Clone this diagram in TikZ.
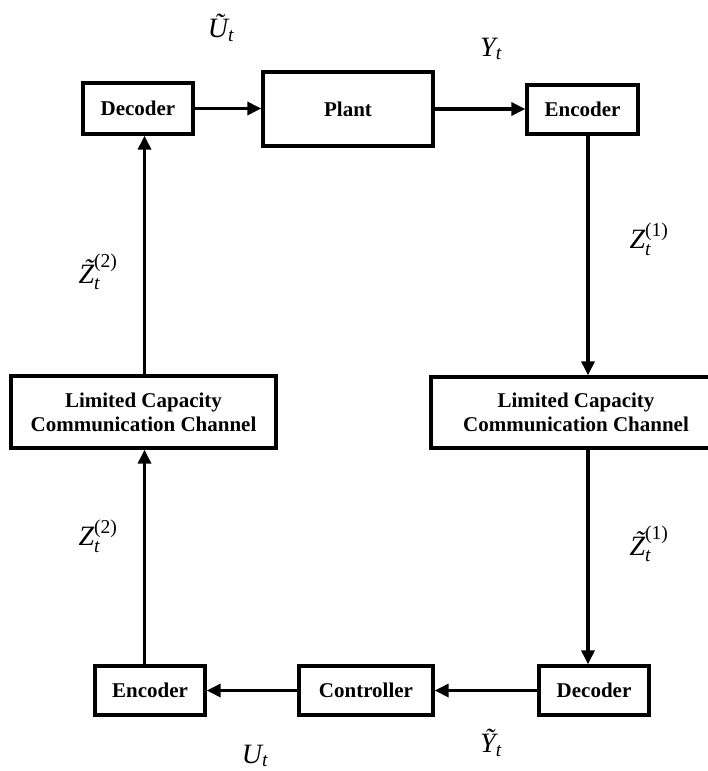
\documentclass[tikz,border=0pt]{standalone}
\usepackage{fontspec}
\setmainfont{Liberation Serif}
\usepackage{amsmath}
\usetikzlibrary{arrows.meta}
\newcommand{\vi}[1]{\text{\itshape #1}}
% italic capital with a tilde set from the text font
\newcommand{\tld}[1]{\text{\itshape\setbox0\hbox{#1}\rlap{\hbox to \wd0{\hss\kern0.16em\raisebox{0.17em}{\char"02DC}\hss}}\box0}}
\begin{document}
\begin{tikzpicture}[x=1pt,y=-1pt,
  box/.style={draw, line width=3.3pt, rectangle, inner sep=0pt, align=center,
    font=\bfseries\fontsize{21}{24}\selectfont},
  arr/.style={line width=3.2pt, -{Triangle[length=14pt,width=13pt]}},
  lab/.style={font=\fontsize{28}{32}\selectfont, inner sep=0pt}]
\useasboundingbox (0,0) rectangle (708,771);
\clip (0,0) rectangle (708,771);
% boxes
\node[box, minimum width=110pt, minimum height=51pt] (decTL) at (138,108.5) {Decoder};
\node[box, minimum width=170pt, minimum height=74pt] (plant) at (348,109) {Plant};
\node[box, minimum width=111pt, minimum height=49pt] (encTR) at (582.5,109.5) {Encoder};
\node[box, minimum width=290pt, minimum height=71pt] (lccR) at (576,412.5) {Limited Capacity\\Communication Channel};
\node[box, minimum width=265pt, minimum height=72pt] (lccL) at (143.5,412) {Limited Capacity\\Communication Channel};
\node[box, minimum width=110pt, minimum height=49pt] (decBR) at (594,690.5) {Decoder};
\node[box, minimum width=134pt, minimum height=49pt] (ctrl) at (366,690.5) {Controller};
\node[box, minimum width=110pt, minimum height=49pt] (encBL) at (150,690.5) {Encoder};
% guide coordinates for vertical connectors
\coordinate (xr) at (588,0);
\coordinate (xl) at (144.5,0);
% connectors
\draw[arr] (decTL.east) -- (decTL.east -| plant.west);
\draw[arr] (plant.east) -- (plant.east -| encTR.west);
\draw[arr] (encTR.south -| xr) -- (lccR.north -| xr);
\draw[arr] (lccR.south -| xr) -- (decBR.north -| xr);
\draw[arr] (decBR.west) -- (ctrl.east);
\draw[arr] (ctrl.west) -- (encBL.east);
\draw[arr] (encBL.north -| xl) -- (lccL.south -| xl);
\draw[arr] (lccL.north -| xl) -- (decTL.south -| xl);
% labels
\node[lab] (lU1) at (221,28) {$\vi{Ũ}_{\vi{t}}$};
\node[lab] (lY1) at (491,49) {$\vi{Y}_{\vi{t}}$};
\node[lab] (lZ1) at (649,239) {$\vi{Z}_{\vi{t}}^{\text{(1)}}$};
\node[lab] (lZ1t) at (649,544) {$\tld{Z}_{\vi{t}}^{\text{(1)}}$};
\node[lab] (lZ2t) at (98,272) {$\tld{Z}_{\vi{t}}^{\text{(2)}}$};
\node[lab] (lZ2) at (98,536) {$\vi{Z}_{\vi{t}}^{\text{(2)}}$};
\node[lab] (lY2) at (491,743) {$\vi{Ỹ}_{\vi{t}}$};
\node[lab] (lU2) at (255,756) {$\vi{U}_{\vi{t}}$};
\end{tikzpicture}
\end{document}
